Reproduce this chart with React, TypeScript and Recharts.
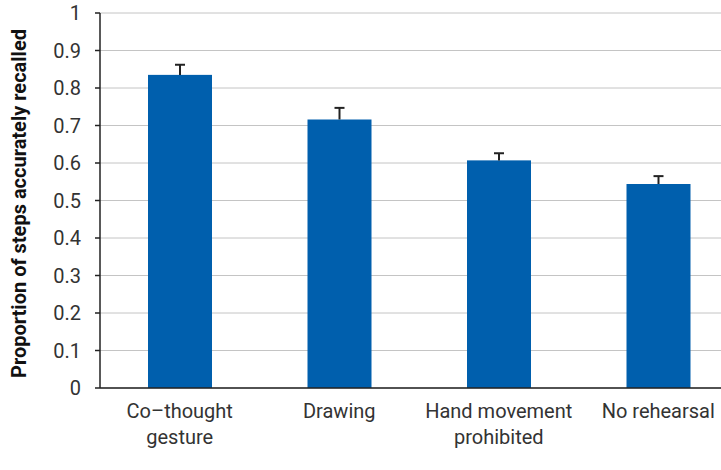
import React from "react";
import { BarChart, Bar, XAxis, YAxis, CartesianGrid } from "recharts";

const categories = ["Co–thought\ngesture", "Drawing", "Hand movement\nprohibited", "No rehearsal"];
const proportions = [0.835, 0.716, 0.607, 0.544];
const errors = [0.027, 0.031, 0.019, 0.021];
const yTicks = [0, 0.1, 0.2, 0.3, 0.4, 0.5, 0.6, 0.7, 0.8, 0.9, 1];
const yTickLabels = ["0", "0.1", "0.2", "0.3", "0.4", "0.5", "0.6", "0.7", "0.8", "0.9", "1"];

const data = categories.map((c, i) => ({ name: c, value: proportions[i], err: errors[i] }));

const FONT = "Roboto, 'Noto Sans', sans-serif";
const BLUE = "#005FAD";

const BarWithError = (props: any) => {
  const { x, y, width, height, payload } = props;
  const v = payload.value;
  const pxPerUnit = v ? height / v : 0;
  const errTop = y - payload.err * pxPerUnit;
  const cx = x + width / 2;
  return (
    <g>
      <rect x={x} y={y} width={width} height={height} fill={BLUE} />
      <line x1={cx} x2={cx} y1={y} y2={errTop} stroke="#222" strokeWidth={2} />
      <line x1={cx - 5} x2={cx + 5} y1={errTop} y2={errTop} stroke="#222" strokeWidth={2} />
    </g>
  );
};

const XTick = (props: any) => {
  const { x, y, payload } = props;
  const lines = String(payload.value).split("\n");
  return (
    <text x={x} y={y} textAnchor="middle" fontFamily={FONT} fontSize={20} fill="#333">
      {lines.map((l, i) => (
        <tspan key={i} x={x} dy={i === 0 ? 30 : 26}>
          {l}
        </tspan>
      ))}
    </text>
  );
};

const YTick = (props: any) => {
  const { x, y, payload } = props;
  const idx = yTicks.indexOf(payload.value);
  return (
    <text x={x} y={y} dy={7} textAnchor="end" fontFamily={FONT} fontSize={20} fill="#333">
      {idx >= 0 ? yTickLabels[idx] : payload.value}
    </text>
  );
};

export default function App() {
  return (
    <div
      style={{
        position: "fixed",
        left: 0,
        top: 0,
        width: 721,
        height: 470,
        overflow: "hidden",
        background: "#fff",
      }}
    >
      <BarChart
        width={738}
        height={470}
        data={data}
        margin={{ top: 13, right: 0, bottom: 0, left: 0 }}
        barSize={64}
      >
        <CartesianGrid horizontal vertical={false} stroke="#c4c4c4" strokeWidth={1} />
        <XAxis
          dataKey="name"
          interval={0}
          tickLine={false}
          tickSize={0}
          tickMargin={0}
          height={82}
          axisLine={{ stroke: "#222", strokeWidth: 1.5 }}
          tick={<XTick />}
        />
        <YAxis
          domain={[0, 1]}
          ticks={yTicks}
          width={100}
          tickSize={5}
          tickMargin={14}
          axisLine={{ stroke: "#222", strokeWidth: 1.5 }}
          tickLine={{ stroke: "#222", strokeWidth: 1.5 }}
          tick={<YTick />}
          interval={0}
          label={{
            value: "Proportion of steps accurately recalled",
            angle: -90,
            position: "insideLeft",
            dx: 14,
            dy: 3,
            style: {
              fontFamily: FONT,
              fontSize: 20,
              fontWeight: 700,
              fill: "#111",
              textAnchor: "middle",
            },
          }}
        />
        <Bar dataKey="value" isAnimationActive={false} shape={<BarWithError />} />
      </BarChart>
    </div>
  );
}
